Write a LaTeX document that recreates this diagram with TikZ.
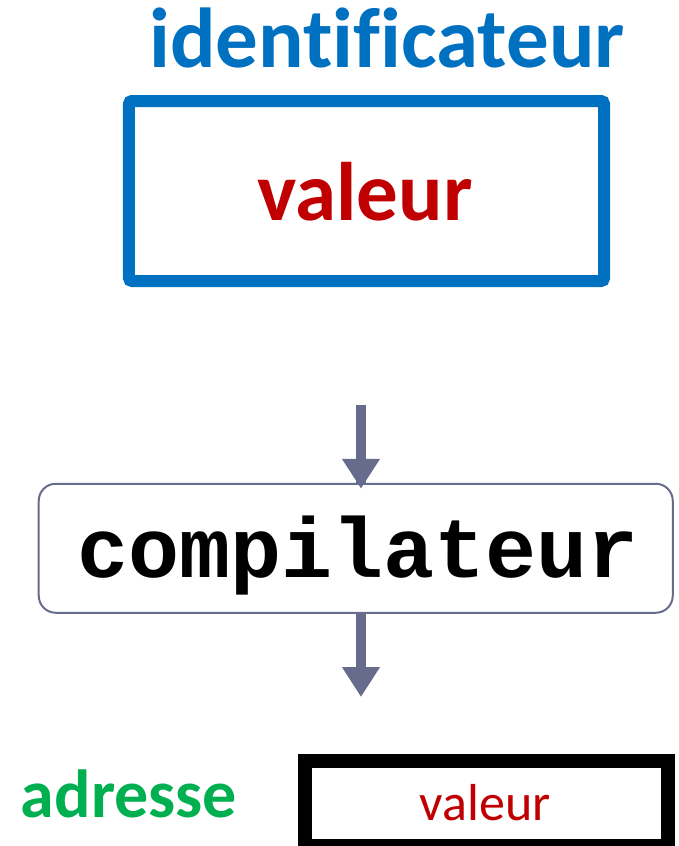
\documentclass[tikz,border=0pt]{standalone}
\usepackage{fontspec}
\setmainfont{Carlito}[Ligatures=NoCommon]
\newfontfamily\monofont{Liberation Mono}
\usepackage{tikz}
\usetikzlibrary{arrows.meta}
\usetikzlibrary{positioning,calc}
\definecolor{idblue}{HTML}{0070C0}
\definecolor{valred}{HTML}{C00000}
\definecolor{adrgreen}{HTML}{00B050}
\definecolor{slate}{HTML}{686C8C}
\tikzstyle{varname}=[
  text=idblue, font=\fontsize{85bp}{90bp}\selectfont\bfseries, inner sep=0pt, anchor=base
]
\tikzstyle{cell}=[
  draw=idblue, line width=12bp, rounded corners=3bp, inner sep=0pt,
  minimum width=475bp, minimum height=180bp
]
\tikzstyle{cellval}=[
  text=valred, font=\fontsize{83bp}{88bp}\selectfont\bfseries, inner sep=0pt, anchor=base
]
\tikzstyle{compiler}=[
  draw=slate, line width=2bp, fill=white, rounded corners=17bp, inner sep=0pt,
  minimum width=634bp, minimum height=129bp
]
\tikzstyle{compname}=[
  font=\fontsize{85bp}{90bp}\monofont\bfseries, inner sep=0pt, anchor=base
]
\tikzstyle{memcell}=[
  draw=black, line width=14bp, inner sep=0pt,
  minimum width=363bp, minimum height=85bp
]
\tikzstyle{memval}=[
  text=valred, font=\fontsize{52bp}{56bp}\selectfont, inner sep=0pt, anchor=base
]
\tikzstyle{addr}=[
  text=adrgreen, font=\fontsize{68bp}{72bp}\selectfont\bfseries, inner sep=0pt, anchor=base
]
\tikzstyle{flow}=[
  draw=slate, line width=10bp, -{Triangle[width=36bp,length=30bp]}
]
\begin{document}
\begin{tikzpicture}[x=1bp,y=1bp]
  \useasboundingbox (0,0) rectangle (679,-846);
  \node (ident) at (387, -67) [varname] {identificateur};
  \node (cell) at (366.5, -191) [cell] {};
  \node (val) at (365, -220) [cellval] {valeur};
  \node (comp) at (355.75, -548.25) [compiler] {};
  \node (compname) at (358, -577) [compname] {compilateur};
  \node (mem) at (486, -803) [memcell] {};
  \node (memval) at (485, -820) [memval] {valeur};
  \node (adr) at (129, -817) [addr] {adresse};
  \coordinate (in) at (361, -405);
  \coordinate (out) at (361, -697);

  \draw [flow] (in) -- (in |- comp.north) -- ++(0, -6);
  \draw [flow] (in |- comp.south) -- (out);
\end{tikzpicture}
\end{document}
